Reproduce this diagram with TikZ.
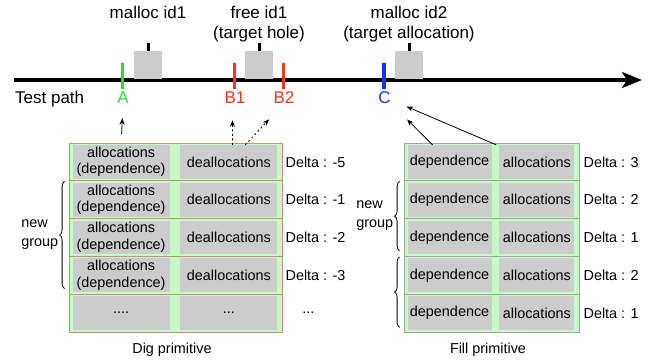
\documentclass[tikz,border=0pt]{standalone}
\usepackage{fontspec}
\setmainfont{Liberation Sans}
\usepackage{tikz}
\usetikzlibrary{arrows.meta,positioning,calc,decorations.pathreplacing}
\definecolor{cellgray}{RGB}{204,204,204}
\definecolor{rowgreen}{RGB}{200,250,200}
\definecolor{digborder}{RGB}{196,150,110}
\definecolor{fillborder}{RGB}{160,165,160}
\definecolor{markA}{RGB}{40,220,40}
\definecolor{markB}{RGB}{250,50,30}
\definecolor{markC}{RGB}{20,50,240}
\tikzstyle{every node}=[font=\fontsize{14.4}{16.5}\selectfont]
\tikzstyle{big text}=[font=\fontsize{17}{20}\selectfont, inner sep=0pt]
\tikzstyle{main path}=[line width=3.5pt, -{Stealth[length=20pt,width=16pt,inset=5pt]}]
\tikzstyle{slot}=[rectangle, fill=cellgray, minimum width=28pt, minimum height=28pt, inner sep=0pt]
\tikzstyle{stub}=[line width=3pt]
\tikzstyle{tick}=[rectangle, inner sep=0pt, minimum width=3.5pt, minimum height=26pt]
\tikzstyle{row}=[rectangle, fill=rowgreen, minimum height=37.8pt, inner sep=0pt, line width=0.8pt]
\tikzstyle{cell}=[rectangle, fill=cellgray, minimum height=33.8pt, inner sep=0pt, align=center]
\tikzstyle{delta}=[anchor=west, inner sep=0pt]
\tikzstyle{grp brace}=[decorate, decoration={brace, amplitude=5pt}, line width=0.8pt]
\tikzstyle{grp text}=[inner sep=0pt, align=left, font=\fontsize{14.4}{19}\selectfont]
\tikzstyle{pointer}=[-{Stealth[length=6.5pt,width=5pt]}, line width=0.8pt]
\tikzstyle{dotted pointer}=[pointer, dash pattern=on 2pt off 2.5pt]
\newcommand{\fourdots}{....}
\newcommand{\threedots}{...}

\begin{document}
\begin{tikzpicture}[x=1pt,y=-1pt]
\def\digx{175.5}
\def\fillx{491.5}
\def\rowtop{143}
\def\rowsep{37.8}
\def\pathy{80}

\useasboundingbox (0,0) rectangle (648,362);

	% Test path
    \coordinate (P-start) at (14,\pathy);
    \coordinate (P-end) at (642,\pathy);
    \draw[main path] (P-start) -- (P-end);
    \node[big text, anchor=base west] (tp) at (15,103) {Test path};

    \foreach \name / \x in {1/148, 2/259, 3/409}
    {
        \node[slot] (S-\name) at (\x,65) {};
        \draw[stub] (S-\name.north) -- ++(0,-8);
    }

    \node[big text, anchor=north] (E-1) at (148,5.6) {malloc id1};
    \node[big text, anchor=north, align=center] (E-2) at (259,5.6) {free id1\\(target hole)};
    \node[big text, anchor=north, align=center] (E-3) at (409,5.6) {malloc id2\\(target allocation)};

    \foreach \name / \x / \col in {A/122.5/markA, B1/234.5/markB, B2/283.5/markB, C/384/markC}
    {
        \node[tick, fill=\col] (T-\name) at (\x,76) {};
        \node[big text, anchor=base, text=\col] (\name) at (\x+0.5,103) {\name};
    }

	% Dig primitive
    \foreach \i / \lt / \rt in {1/{allocations\\(dependence)}/deallocations,
                               2/{allocations\\(dependence)}/deallocations,
                               3/{allocations\\(dependence)}/deallocations,
                               4/{allocations\\(dependence)}/deallocations,
                               5/\fourdots/\threedots}
    {
        \node[row, draw=digborder, minimum width=213pt] (D-\i) at ({\digx},{\rowtop+\rowsep*(\i-0.5)}) {};
        \node[cell, minimum width=97pt] (DL-\i) at ($(D-\i.west)+(52.5,0)$) {\lt};
        \node[cell, minimum width=97pt] (DR-\i) at ($(D-\i.east)+(-53.5,0)$) {\rt};
    }
    \foreach \i / \d in {1/-5, 2/-1, 3/-2, 4/-3}
        \node[delta] (DD-\i) at ($(D-\i.east)+(3,0)$) {Delta : \d};
    \node (DD-5) at ($(D-5.east)+(26,0)$) {\threedots};
    \node[anchor=base] (digcap) at (172,353) {Dig primitive};

    \draw[grp brace] ([xshift=-4pt,yshift=6pt]D-4.south west) -- ([xshift=-4pt,yshift=-1pt]D-2.north west)
        node[grp text, midway, left=6pt] (DG) {new\\group};

	% Fill primitive
    \foreach \i / \d in {1/3, 2/2, 3/1, 4/2, 5/1}
    {
        \node[row, draw=fillborder, minimum width=175pt] (F-\i) at ({\fillx},{\rowtop+\rowsep*(\i-0.5)}) {};
        \node[cell, minimum width=84pt] (FL-\i) at ($(F-\i.west)+(46,0)$) {dependence};
        \node[cell, minimum width=75pt] (FR-\i) at ($(F-\i.east)+(-42.5,0)$) {allocations};
        \node[delta] (FD-\i) at ($(F-\i.east)+(4,0)$) {Delta : \d};
    }
    \node[anchor=base] (fillcap) at (488,353) {Fill primitive};

    \draw[grp brace] ([xshift=-4pt,yshift=6pt]F-3.south west) -- ([xshift=-4pt,yshift=-1pt]F-2.north west)
        node[grp text, midway, left=6pt] (FG) {new\\group};
    \draw[grp brace] ([xshift=-4pt,yshift=5pt]F-5.south west) -- ([xshift=-4pt,yshift=-1pt]F-4.north west);

	% primitives -> test path
    \draw[pointer, shorten <=11pt, shorten >=15pt] (DL-1.north) -- (A.south);
    \draw[dotted pointer, shorten >=17pt] ([xshift=3.5pt]DR-1.north) -- ([xshift=-2.5pt]B1.south);
    \draw[dotted pointer, shorten >=22pt] ([xshift=16.5pt]DR-1.north) -- (B2.south);
    \draw[pointer, shorten >=23pt] ([xshift=-17pt]FL-1.north) -- (C);
    \draw[pointer, shorten >=17pt] ([xshift=-3pt]FR-1.north west) -- (C);

\end{tikzpicture}
\end{document}
